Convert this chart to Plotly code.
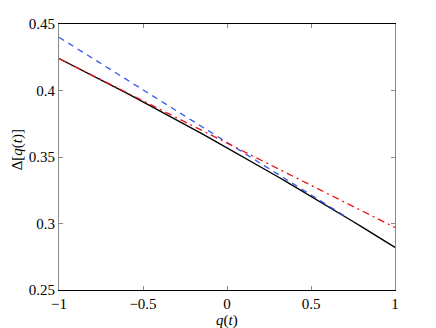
import numpy as np
import plotly.graph_objects as go

# sample grid along q(t)
q = np.linspace(-1, 1, 41)
q_blue = np.linspace(-1, 0.71, 36)

# exact curve
delta_exact = 0.357 - 0.071 * q - 0.004 * q ** 2
# linear approximation (blue dashed)
delta_blue = 0.361 - 0.079 * q_blue
# linear approximation (red dash-dot)
delta_red = 0.3605 - 0.0635 * q

x_ticks = [-1, -0.5, 0, 0.5, 1]
x_labels = ['\u22121', '\u22120.5', '0', '0.5', '1']
y_ticks = [0.25, 0.3, 0.35, 0.4, 0.45]
y_labels = ['0.25', '0.3', '0.35', '0.4', '0.45']

serif = 'Times New Roman, Liberation Serif, DejaVu Serif, serif'

fig = go.Figure()

fig.add_trace(go.Scatter(
    x = q,
    y = delta_exact,
    mode = 'lines',
    line = {'color': 'black', 'width': 1.4}
))

fig.add_trace(go.Scatter(
    x = q_blue,
    y = delta_blue,
    mode = 'lines',
    line = {'color': '#3355ee', 'width': 1.3, 'dash': '6px,5px'}
))

fig.add_trace(go.Scatter(
    x = q,
    y = delta_red,
    mode = 'lines',
    line = {'color': '#ee1111', 'width': 1.3, 'dash': '7px,4px,2px,4px'}
))

# the page body adds an 8px offset, so the figure is 8px smaller
fig.update_layout({
    'width': 428,
    'height': 320,
    'showlegend': False,
    'plot_bgcolor': 'white',
    'paper_bgcolor': 'white',
    'font': {'family': serif, 'size': 15, 'color': 'black'},
    'margin': {'l': 51, 'r': 41, 't': 16, 'b': 38},
    'annotations': [
        {
            'text': '<i>q</i>(<i>t</i>)',
            'xref': 'paper', 'yref': 'paper',
            'x': 0.5, 'y': -0.075,
            'xanchor': 'center', 'yanchor': 'top',
            'showarrow': False,
            'font': {'family': serif, 'size': 15}
        },
        {
            'text': '\u0394[<i>q</i>(<i>t</i>)]',
            'xref': 'paper', 'yref': 'paper',
            'x': -0.125, 'y': 0.525,
            'xanchor': 'center', 'yanchor': 'middle',
            'textangle': -90,
            'showarrow': False,
            'font': {'family': serif, 'size': 15}
        }
    ]
})

fig.update_xaxes(
    range = [-1, 1],
    tickvals = x_ticks,
    ticktext = x_labels,
    ticks = 'inside',
    ticklen = 4,
    tickcolor = '#888888',
    showline = True,
    linecolor = 'black',
    linewidth = 1,
    mirror = 'ticks',
    showgrid = False,
    zeroline = False,
    automargin = False
)

fig.update_yaxes(
    range = [0.25, 0.45],
    tickvals = y_ticks,
    ticktext = y_labels,
    ticks = 'inside',
    ticklen = 4,
    tickcolor = '#888888',
    showline = True,
    linecolor = '#888888',
    linewidth = 1,
    mirror = 'ticks',
    showgrid = False,
    zeroline = False,
    automargin = False
)

fig.write_html("out.html")
